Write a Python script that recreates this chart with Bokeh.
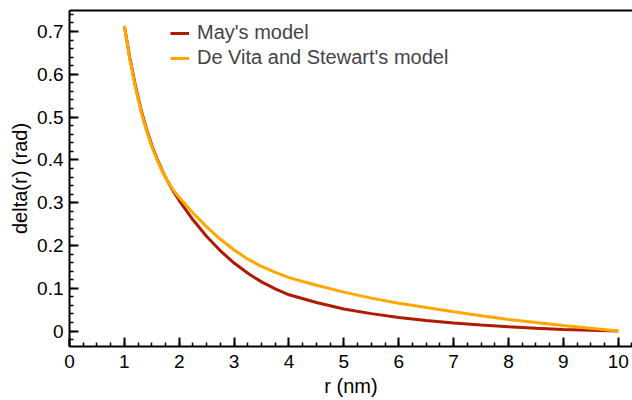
from bokeh.plotting import figure
from bokeh.models import (Range1d, LinearAxis, SingleIntervalTicker, FixedTicker, Legend, LegendItem)
from bokeh.embed import file_html
from bokeh.resources import INLINE

# ---- data ----
r_nm = [1.0, 1.1, 1.2, 1.3, 1.4, 1.5, 1.6, 1.7, 1.8, 1.9, 2.0, 2.25, 2.5, 2.75,
        3.0, 3.25, 3.5, 3.75, 4.0, 4.5, 5.0, 5.5, 6.0, 6.5, 7.0, 7.5, 8.0, 8.5,
        9.0, 9.5, 10.0]
may_model = [0.713, 0.638, 0.574, 0.519, 0.473, 0.434, 0.401, 0.372, 0.347, 0.325,
             0.305, 0.260, 0.221, 0.1875, 0.159, 0.135, 0.115, 0.0985, 0.0848, 0.0668,
             0.0518, 0.0408, 0.0318, 0.0248, 0.0188, 0.0141, 0.0101, 0.0066, 0.0038,
             0.0018, 0.0]
devita_model = [0.713, 0.635, 0.570, 0.515, 0.469, 0.431, 0.399, 0.371, 0.347, 0.328,
                0.312, 0.276, 0.2435, 0.2145, 0.1895, 0.168, 0.151, 0.137, 0.125, 0.107,
                0.091, 0.077, 0.065, 0.055, 0.045, 0.036, 0.027, 0.020, 0.013, 0.0065, 0.0]
series_labels = ["May's model", "De Vita and Stewart's model"]
series_colors = ["#b01a00", "#ffa800"]
x_label = "r (nm)"
y_label = "delta(r) (rad)"

FONT = "Liberation Sans"

p = figure(width=632, height=400, output_backend="svg", toolbar_location=None,
           x_range=Range1d(0, 10.26), y_range=Range1d(-0.036, 0.749),
           x_axis_location=None, y_axis_location=None,
           min_border_left=69, min_border_right=0, min_border_top=10, min_border_bottom=54)
p.outline_line_color = None
p.xgrid.visible = False
p.ygrid.visible = False
p.background_fill_color = "white"
p.border_fill_color = "white"

def style_axis(ax):
    ax.axis_line_color = "black"
    ax.axis_line_width = 2
    ax.major_tick_line_color = "black"
    ax.major_tick_line_width = 2
    ax.minor_tick_line_color = "black"
    ax.minor_tick_line_width = 1.5
    ax.major_tick_in = 9
    ax.major_tick_out = 0
    ax.minor_tick_in = 4
    ax.minor_tick_out = 0
    ax.major_label_text_font = FONT
    ax.major_label_text_font_size = "19px"
    ax.major_label_text_color = "black"
    ax.axis_label_text_font = FONT
    ax.axis_label_text_font_size = "20px"
    ax.axis_label_text_font_style = "normal"
    ax.axis_label_text_color = "black"

xax = LinearAxis(ticker=SingleIntervalTicker(interval=1, num_minor_ticks=4), axis_label=x_label)
style_axis(xax)
xax.major_label_standoff = 8
xax.axis_label_standoff = 4
p.add_layout(xax, "below")

yax = LinearAxis(ticker=SingleIntervalTicker(interval=0.1, num_minor_ticks=5), axis_label=y_label)
style_axis(yax)
yax.major_label_standoff = 6
yax.axis_label_standoff = 3
yax.major_label_overrides = {0: "0"}
p.add_layout(yax, "left")

# top frame line: an axis with no ticks and no labels
top = LinearAxis(ticker=FixedTicker(ticks=[], minor_ticks=[]))
top.axis_line_color = "black"
top.axis_line_width = 2
top.major_tick_line_color = None
top.minor_tick_line_color = None
top.major_tick_in = 0
top.major_tick_out = 0
top.minor_tick_in = 0
top.minor_tick_out = 0
top.major_label_standoff = 0
p.add_layout(top, "above")

r1 = p.line(r_nm, may_model, line_color=series_colors[0], line_width=3)
r2 = p.line(r_nm, devita_model, line_color=series_colors[1], line_width=3)

legend = Legend(items=[LegendItem(label=series_labels[0], renderers=[r1]),
                       LegendItem(label=series_labels[1], renderers=[r2])],
                location=(101, 277), padding=0, margin=0, spacing=2,
                glyph_width=19, glyph_height=20, label_height=20, label_standoff=8,
                label_text_font=FONT, label_text_font_size="20px",
                border_line_color=None, background_fill_alpha=0)
p.add_layout(legend, "center")

open("out.html", "w").write(file_html(p, INLINE))
